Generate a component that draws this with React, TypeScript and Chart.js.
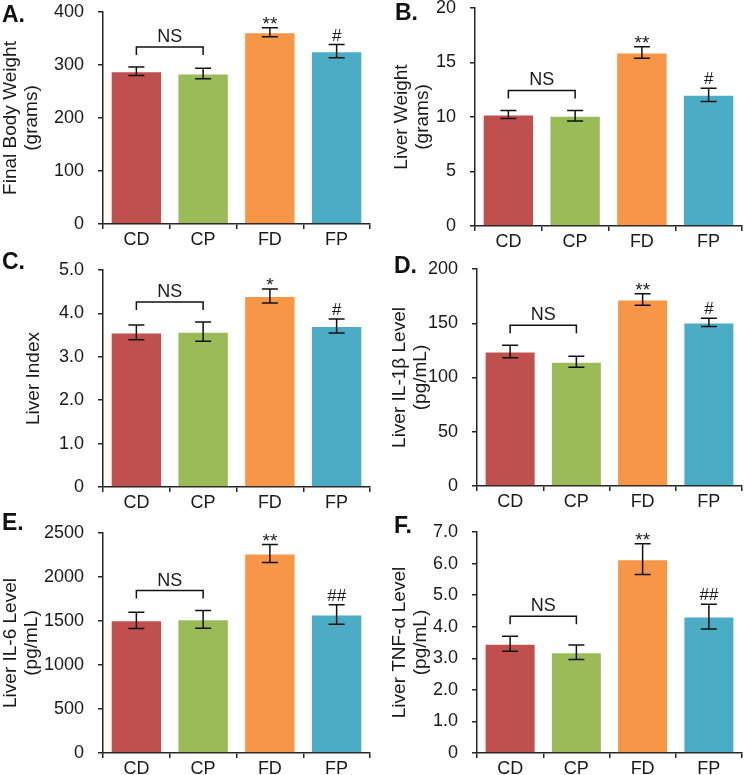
import React, { useEffect, useRef } from "react";
import { Chart, registerables } from "chart.js";

Chart.register(...registerables);

// ---------------- data ----------------
const groups = ["CD", "CP", "FD", "FP"];
const barColors = ["#C0504D", "#9BBB59", "#F79646", "#4BACC6"];

const bodyWeight = [288, 284, 362, 326];
const bodyWeightErr = [8, 10, 8.5, 12.5];
const bodyWeightSig = ["", "", "**", "#"];
const bodyWeightTicks = ["0", "100", "200", "300", "400"];

const liverWeight = [10.23, 10.12, 15.92, 12.03];
const liverWeightErr = [0.37, 0.48, 0.53, 0.6];
const liverWeightSig = ["", "", "**", "#"];
const liverWeightTicks = ["0", "5", "10", "15", "20"];

const liverIndex = [3.56, 3.58, 4.4, 3.71];
const liverIndexErr = [0.17, 0.22, 0.16, 0.16];
const liverIndexSig = ["", "", "*", "#"];
const liverIndexTicks = ["0", "1.0", "2.0", "3.0", "4.0", "5.0"];

const il1b = [124, 114.5, 172, 150.8];
const il1bErr = [5.8, 5, 5.3, 3.7];
const il1bSig = ["", "", "**", "#"];
const il1bTicks = ["0", "50", "100", "150", "200"];

const il6 = [1508, 1519, 2266, 1574];
const il6Err = [92, 100, 102, 112];
const il6Sig = ["", "", "**", "##"];
const il6Ticks = ["0", "500", "1000", "1500", "2000", "2500"];

const tnfa = [3.46, 3.19, 6.14, 4.32];
const tnfaErr = [0.24, 0.23, 0.49, 0.39];
const tnfaSig = ["", "", "**", "##"];
const tnfaTicks = ["0", "1.0", "2.0", "3.0", "4.0", "5.0", "6.0", "7.0"];

const nsLabel = "NS";

// ---------------- layout / style ----------------
const FONT = "'Liberation Sans', Arial, Helvetica, sans-serif";
const AXIS = "#262626";
const TEXT = "#1a1a1a";
const COL_W = 372;
const rowTops = [0, 258, 520];
const rowHeights = [258, 262, 255];

type Panel = {
  letter: string;
  values: number[];
  errors: number[];
  sig: string[];
  ticks: string[];
  title: string | string[];
  col: number;
  row: number;
  axisX: number;
  right: number;
  top: number;
  zero: number;
  titlePad: number;
  letterLeft: number;
  letterTop: number;
};

const panels: Panel[] = [
  { letter: "A.", values: bodyWeight, errors: bodyWeightErr, sig: bodyWeightSig, ticks: bodyWeightTicks,
    title: ["Final Body Weight", "(grams)"], col: 0, row: 0, axisX: 103, right: 370, top: 12, zero: 224,
    titlePad: 0, letterLeft: 2, letterTop: 3 },
  { letter: "B.", values: liverWeight, errors: liverWeightErr, sig: liverWeightSig, ticks: liverWeightTicks,
    title: ["Liver Weight", "(grams)"], col: 1, row: 0, axisX: 475, right: 742, top: 8, zero: 226,
    titlePad: 19, letterLeft: 395, letterTop: 1 },
  { letter: "C.", values: liverIndex, errors: liverIndexErr, sig: liverIndexSig, ticks: liverIndexTicks,
    title: "Liver Index", col: 0, row: 1, axisX: 103, right: 370, top: 270, zero: 487,
    titlePad: 23, letterLeft: 2, letterTop: 250 },
  { letter: "D.", values: il1b, errors: il1bErr, sig: il1bSig, ticks: il1bTicks,
    title: ["Liver IL-1β Level", "(pg/mL)"], col: 1, row: 1, axisX: 477, right: 742, top: 269, zero: 486,
    titlePad: 17, letterLeft: 394, letterTop: 254 },
  { letter: "E.", values: il6, errors: il6Err, sig: il6Sig, ticks: il6Ticks,
    title: ["Liver IL-6 Level", "(pg/mL)"], col: 0, row: 2, axisX: 103, right: 370, top: 533, zero: 753,
    titlePad: 0, letterLeft: 2, letterTop: 511 },
  { letter: "F.", values: tnfa, errors: tnfaErr, sig: tnfaSig, ticks: tnfaTicks,
    title: ["Liver TNF-α Level", "(pg/mL)"], col: 1, row: 2, axisX: 477, right: 742, top: 532, zero: 753,
    titlePad: 17, letterLeft: 394, letterTop: 514 },
];

function annotationPlugin(p: Panel) {
  return {
    id: "annot" + p.letter,
    afterDatasetsDraw(chart: any) {
      const ctx = chart.ctx as CanvasRenderingContext2D;
      const meta = chart.getDatasetMeta(0);
      const y = chart.scales.y;
      const tops: number[] = [];
      ctx.save();
      ctx.strokeStyle = "#111";
      ctx.lineWidth = 1.5;
      meta.data.forEach((el: any, i: number) => {
        const x = el.x;
        const hi = y.getPixelForValue(p.values[i] + p.errors[i]);
        const lo = y.getPixelForValue(p.values[i] - p.errors[i]);
        tops.push(hi);
        ctx.beginPath();
        ctx.moveTo(x, hi);
        ctx.lineTo(x, lo);
        ctx.moveTo(x - 8, hi);
        ctx.lineTo(x + 8, hi);
        ctx.moveTo(x - 8, lo);
        ctx.lineTo(x + 8, lo);
        ctx.stroke();
      });
      // NS bracket between first two groups
      const x0 = meta.data[0].x;
      const x1 = meta.data[1].x;
      const ref = Math.min(tops[0], tops[1]);
      const endY = ref - 12;
      const barY = ref - 20;
      ctx.beginPath();
      ctx.moveTo(x0, endY);
      ctx.lineTo(x0, barY);
      ctx.lineTo(x1, barY);
      ctx.lineTo(x1, endY);
      ctx.stroke();
      ctx.fillStyle = TEXT;
      ctx.font = `18px ${FONT}`;
      ctx.textAlign = "center";
      ctx.textBaseline = "alphabetic";
      ctx.fillText(nsLabel, (x0 + x1) / 2, barY - 5);
      // significance marks
      p.sig.forEach((s, i) => {
        if (!s) return;
        ctx.font = `${s.includes("*") ? 19 : 17}px ${FONT}`;
        const m = ctx.measureText(s);
        const desc = m.actualBoundingBoxDescent || 0;
        ctx.fillText(s, meta.data[i].x, tops[i] - 4 - desc);
      });
      ctx.restore();
    },
  };
}

function PanelChart({ p }: { p: Panel }) {
  const ref = useRef<HTMLCanvasElement>(null);
  const colLeft = p.col * COL_W;
  const rowTop = rowTops[p.row];
  const h = rowHeights[p.row];
  useEffect(() => {
    if (!ref.current) return;
    const yWidth = p.axisX - colLeft;
    const xHeight = rowTop + h - p.zero;
    const maxV = Number(p.ticks[p.ticks.length - 1]);
    const stepV = Number(p.ticks[1]);
    const chart = new Chart(ref.current, {
      type: "bar",
      data: {
        labels: groups,
        datasets: [
          {
            data: p.values,
            backgroundColor: barColors,
            borderColor: "rgba(255,255,255,0.45)",
            borderWidth: 1,
            barPercentage: 0.77,
            categoryPercentage: 1,
          },
        ],
      },
      options: {
        responsive: false,
        animation: false,
        devicePixelRatio: 1,
        layout: {
          padding: { top: p.top - rowTop, right: colLeft + COL_W - p.right, left: 0, bottom: 0 },
        },
        plugins: { legend: { display: false }, tooltip: { enabled: false }, title: { display: false } },
        scales: {
          x: {
            grid: {
              display: true,
              drawOnChartArea: false,
              drawTicks: true,
              tickLength: 5,
              color: AXIS,
              lineWidth: 1.5,
              offset: true,
            },
            border: { display: true, color: AXIS, width: 1.5 },
            ticks: { color: TEXT, font: { family: FONT, size: 18 }, padding: 0 },
            afterFit: (s: any) => {
              s.height = xHeight;
              s.paddingLeft = 0;
              s.paddingRight = 0;
            },
          },
          y: {
            min: 0,
            max: maxV,
            ticks: {
              stepSize: stepV,
              color: TEXT,
              font: { family: FONT, size: 18 },
              padding: 14,
              callback: (v: any) => {
                const t = p.ticks.find((s) => Math.abs(Number(s) - Number(v)) < 1e-9);
                return t !== undefined ? t : "";
              },
            },
            grid: {
              display: true,
              drawOnChartArea: false,
              drawTicks: true,
              tickLength: 5,
              color: AXIS,
              lineWidth: 1.5,
            },
            border: { display: true, color: AXIS, width: 1.5 },
            title: {
              display: true,
              text: p.title,
              color: TEXT,
              font: { family: FONT, size: 19, lineHeight: 1.1 },
              padding: { top: p.titlePad, bottom: 0 },
            },
            afterFit: (s: any) => {
              s.width = yWidth;
              s.paddingTop = 0;
              s.paddingBottom = 0;
            },
          },
        },
      },
      plugins: [annotationPlugin(p)],
    } as any);
    return () => chart.destroy();
  }, []);
  return (
    <canvas
      ref={ref}
      width={COL_W}
      height={h}
      style={{ position: "absolute", left: colLeft, top: rowTop, width: COL_W, height: h }}
    />
  );
}

export default function App() {
  return (
    <div
      style={{
        position: "absolute",
        left: 0,
        top: 0,
        width: 744,
        height: 775,
        overflow: "hidden",
        background: "#ffffff",
        fontFamily: FONT,
      }}
    >
      {panels.map((p) => (
        <PanelChart key={p.letter} p={p} />
      ))}
      {panels.map((p) => (
        <div
          key={"l" + p.letter}
          style={{
            position: "absolute",
            left: p.letterLeft,
            top: p.letterTop,
            fontSize: 23,
            fontWeight: "bold",
            lineHeight: 1,
            color: "#111",
            fontFamily: FONT,
          }}
        >
          {p.letter}
        </div>
      ))}
    </div>
  );
}
